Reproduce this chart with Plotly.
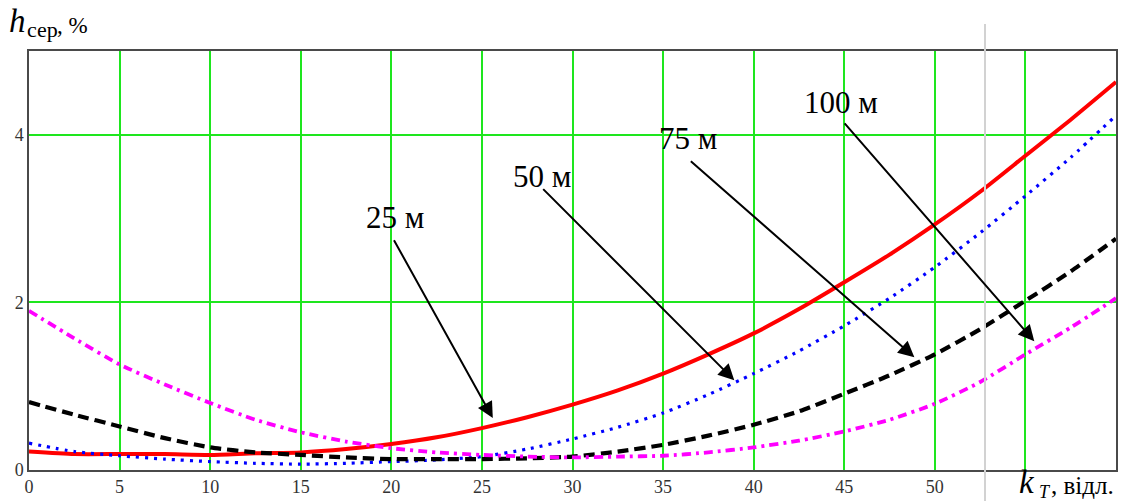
import plotly.graph_objects as go

# Number of readings k_T (x axis)
k_t = [0, 2.5, 5, 7.5, 10, 12.5, 15, 17.5, 20, 22.5, 25, 27.5, 30, 32.5, 35,
       37.5, 40, 42.5, 45, 47.5, 50, 52.5, 55, 57.5, 60]

# Mean error h_сер, % for each distance
h_25 = [0.22, 0.19, 0.19, 0.19, 0.18, 0.20, 0.21, 0.25, 0.31, 0.39, 0.50, 0.63,
        0.78, 0.95, 1.15, 1.38, 1.63, 1.92, 2.24, 2.57, 2.93, 3.32, 3.75, 4.18, 4.63]
h_50 = [0.32, 0.22, 0.17, 0.13, 0.10, 0.08, 0.07, 0.08, 0.10, 0.12, 0.16, 0.25,
        0.37, 0.51, 0.68, 0.90, 1.15, 1.42, 1.72, 2.05, 2.42, 2.83, 3.27, 3.73, 4.23]
h_75 = [0.81, 0.66, 0.52, 0.38, 0.27, 0.21, 0.18, 0.15, 0.13, 0.13, 0.13, 0.14,
        0.16, 0.22, 0.30, 0.41, 0.54, 0.70, 0.91, 1.13, 1.38, 1.68, 2.02, 2.37, 2.76]
h_100 = [1.90, 1.57, 1.26, 1.02, 0.80, 0.60, 0.45, 0.34, 0.26, 0.21, 0.18, 0.16,
         0.15, 0.16, 0.17, 0.21, 0.27, 0.35, 0.46, 0.60, 0.79, 1.05, 1.38, 1.70, 2.05]

x_ticks = list(range(0, 61, 5))
x_tick_text = ["0", "5", "10", "15", "20", "25", "30", "35", "40", "45", "50", "", ""]
y_ticks = [0, 2, 4]

series_names = ["25 м", "50 м", "75 м", "100 м"]
# label position and arrow (tail -> head) in data units
label_pos = [(20.2, 3.01), (28.3, 3.50), (36.4, 3.95), (44.84, 4.39)]
arrow_tail = [(20.1, 2.76), (28.3, 3.37), (36.45, 3.70), (44.95, 4.155)]
arrow_head = [(25.6, 0.62), (38.93, 1.07), (48.87, 1.345), (55.49, 1.536)]

SERIF = "Liberation Serif"
GRID = "#1ee61e"

fig = go.Figure()
styles = [
    dict(color="#ff0000", width=4, dash="solid"),
    dict(color="#0000ff", width=3.2, dash="3px,6px"),
    dict(color="#000000", width=4.2, dash="11px,6px"),
    dict(color="#ff00ff", width=3.8, dash="9px,5px,3px,5px"),
]
for name, ys, st in zip(series_names, [h_25, h_50, h_75, h_100], styles):
    fig.add_trace(go.Scatter(x=k_t, y=ys, mode="lines", name=name,
                             line=dict(shape="spline", smoothing=0.6, **st)))

W, H = 1123, 501
L, R, T, B = 29, 7, 51, 31


def px_to_paper(px, py):
    return (px - L) / (W - L - R), (H - B - py) / (H - T - B)


# white boxes behind the distance labels (they hide the grid)
boxes = [(356, 199, 432, 243), (470, 158, 592, 200), (612, 119, 762, 159),
         (772, 82, 914, 120)]
shapes = []
for x0, y0, x1, y1 in boxes:
    a, b = px_to_paper(x0, y1)
    c, d = px_to_paper(x1, y0)
    shapes.append(dict(type="rect", xref="paper", yref="paper", x0=a, y0=b,
                       x1=c, y1=d, fillcolor="white", line=dict(width=0),
                       layer="between"))
# thin grey separator line
gx, gy0 = px_to_paper(985, 501)
_, gy1 = px_to_paper(985, 24)
shapes.append(dict(type="line", xref="paper", yref="paper", x0=gx, x1=gx,
                   y0=gy0, y1=gy1, line=dict(color="#d2d2d2", width=2),
                   layer="above"))

annotations = []
for name, (lx, ly) in zip(series_names, label_pos):
    annotations.append(dict(x=lx, y=ly, xref="x", yref="y", text=name,
                            showarrow=False,
                            font=dict(family=SERIF, size=31, color="#000")))
for (tx, ty), (hx, hy) in zip(arrow_tail, arrow_head):
    annotations.append(dict(x=hx, y=hy, xref="x", yref="y", ax=tx, ay=ty,
                            axref="x", ayref="y", text="", showarrow=True,
                            arrowhead=2, arrowsize=1.6, arrowwidth=2,
                            arrowcolor="#000", standoff=0))

# axis titles, assembled from pieces: (text, left px, centre px, size)
title_parts = [
    ("<i>h</i>", 8, 21, 33),
    ("сер", 26, 30, 22),
    (", %", 56, 25, 23),
    ("<i>k</i>", 1018, 482, 33),
    ("<i>T</i>", 1038, 492, 18),
    (", відл.", 1050, 485, 25),
]
for txt, px, py, size in title_parts:
    ax_, ay_ = px_to_paper(px, py)
    annotations.append(dict(x=ax_, y=ay_, xref="paper", yref="paper",
                            xanchor="left", yanchor="middle", showarrow=False,
                            text=txt, borderpad=0,
                            font=dict(family=SERIF, size=size, color="#000")))

fig.update_layout(
    width=W, height=H,
    margin=dict(l=L, r=R, t=T, b=B, autoexpand=False),
    paper_bgcolor="white", plot_bgcolor="white",
    showlegend=False,
    shapes=shapes,
    annotations=annotations,
    xaxis=dict(range=[0, 60], tickvals=x_ticks, ticktext=x_tick_text,
               showgrid=True, gridcolor=GRID, gridwidth=1.5, zeroline=False,
               showline=True, mirror=True, linecolor="#4a4a4a", linewidth=1.5,
               ticks="", automargin=False,
               tickfont=dict(family=SERIF, size=18, color="#333")),
    yaxis=dict(range=[0, 5], tickvals=y_ticks, showgrid=True,
               gridcolor=GRID, gridwidth=1.5, zeroline=False,
               showline=True, mirror=True, linecolor="#4a4a4a", linewidth=1.5,
               ticks="", automargin=False,
               tickfont=dict(family=SERIF, size=18, color="#333")),
)

fig.write_html("out.html")
